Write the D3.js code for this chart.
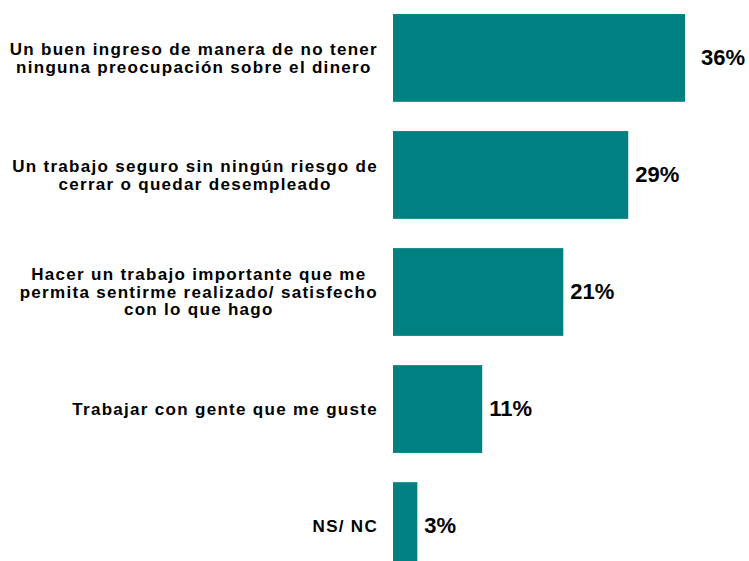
<!DOCTYPE html>
<html>
<head>
<meta charset="utf-8">
<script src="https://cdn.jsdelivr.net/npm/d3@7"></script>
<style>
    body { margin: 0; background: #fff; overflow: hidden; }
    text { font-family: "Liberation Sans", Arial, sans-serif; font-weight: bold; fill: #000; }
</style>
</head>
<body>
<svg id="chart" width="749" height="561"></svg>
<script>
// categories, split into the lines shown in the picture
const categories = [
    ["Un buen ingreso de manera de no tener", "ninguna preocupación sobre el dinero"],
    ["Un trabajo seguro sin ningún riesgo de", "cerrar o quedar desempleado"],
    ["Hacer un trabajo importante que me", "permita sentirme realizado/ satisfecho", "con lo que hago"],
    ["Trabajar con gente que me guste"],
    ["NS/ NC"]
];
const values = [36, 29, 21, 11, 3];

const svg = d3.select("#chart");
const keys = categories.map((c, i) => i);

var x = d3.scaleLinear()
    .domain([0, 36])
    .range([393, 685]);

var y = d3.scaleBand()
    .domain(keys)
    .range([0, 584])
    .paddingInner(0.25)
    .paddingOuter(0.12);

// bars
svg.append("g")
    .selectAll("rect")
    .data(values)
    .join("rect")
    .attr("x", x(0))
    .attr("y", (d, i) => y(i))
    .attr("width", d => x(d) - x(0))
    .attr("height", y.bandwidth())
    .attr("fill", "#008080");

// value labels (the longest bar's label sits a bit further out in the original)
const maxVal = d3.max(values);
svg.append("g")
    .selectAll("text")
    .data(values)
    .join("text")
    .attr("x", d => x(d) + (d === maxVal ? 16 : 7))
    .attr("y", (d, i) => y(i) + y.bandwidth() / 2)
    .attr("dy", "0.33em")
    .style("font-size", "22px")
    .text(d => d + "%");

// category labels: block right-aligned, lines centred inside it
const lineH = 17.5;
const labelRight = 378;
categories.forEach((lines, i) => {
    let g = svg.append("text")
        .style("font-size", "17px")
        .style("letter-spacing", "1.3px")
        .attr("text-anchor", "middle");
    let cy = y(i) + y.bandwidth() / 2;
    let top = cy - (lines.length - 1) * lineH / 2;
    let spans = lines.map((l, j) => g.append("tspan")
        .attr("y", top + j * lineH)
        .attr("dy", "0.35em")
        .text(l));
    let maxW = d3.max(spans, s => s.node().getComputedTextLength());
    spans.forEach(s => s.attr("x", labelRight - maxW / 2));
});
</script>
</body>
</html>
